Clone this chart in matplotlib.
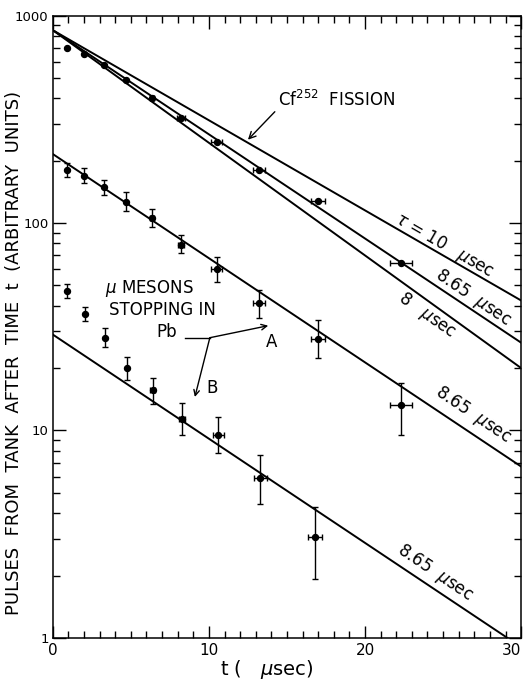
import numpy as np
import matplotlib
matplotlib.use("Agg")
import matplotlib.pyplot as plt
from matplotlib.ticker import FixedLocator, LogLocator, NullFormatter, MultipleLocator

# Data
# -----------------------------------------------------------
# Cf252 fission points
cf_t = [0.9, 2.0, 3.3, 4.7, 6.35, 8.2, 10.5, 13.2, 17.0, 22.3]
cf_n = [700, 655, 580, 490, 400, 322, 246, 181, 128, 64]
cf_terr = [0, 0, 0, 0, 0.15, 0.25, 0.35, 0.4, 0.45, 0.7]

# mu mesons stopping in Pb, curve A
a_t = [0.9, 2.0, 3.3, 4.7, 6.35, 8.2, 10.5, 13.2, 17.0, 22.3]
a_n = [180, 169, 149, 126, 106, 78, 60, 41, 27.5, 13.2]
a_hi = [195, 185, 162, 141, 117, 87.5, 68.6, 47.4, 34, 16.9]
a_lo = [167, 156, 136, 114, 96, 71.6, 51.9, 34.7, 22.3, 9.5]
a_terr = [0, 0, 0, 0, 0.15, 0.2, 0.35, 0.4, 0.45, 0.7]

# curve B
b_t = [0.9, 2.05, 3.33, 4.74, 6.4, 8.27, 10.6, 13.3, 16.8]
b_n = [46.9, 36.3, 27.8, 20.0, 15.6, 11.3, 9.5, 5.9, 3.08]
b_hi = [50.7, 39.3, 31.1, 22.7, 18.0, 13.5, 11.6, 7.6, 4.3]
b_lo = [43.5, 33.6, 25.2, 17.6, 13.4, 9.5, 7.8, 4.4, 1.93]
b_terr = [0, 0, 0, 0, 0.15, 0.2, 0.35, 0.4, 0.45]

# fitted exponentials: start value, lifetime (usec)
cf_n0 = 850
cf_taus = [10, 8.65, 8]
a_n0 = 215
b_n0 = 29
mu_tau = 8.65

x_ticks = [0, 10, 20, 30]
y_ticks = [1, 10, 100, 1000]
y_tick_labels = ['1', '10', '100', '1000']

# Plot
# -----------------------------------------------------------
fig = plt.figure(figsize=(5.28, 6.84), dpi=100)
ax = fig.add_axes([0.100, 0.0673, 0.887, 0.910])

t = np.linspace(0, 30, 300)
for tau in cf_taus:
    ax.plot(t, cf_n0 * np.exp(-t / tau), color='black', lw=1.4)
ax.plot(t, a_n0 * np.exp(-t / mu_tau), color='black', lw=1.4)
ax.plot(t, b_n0 * np.exp(-t / mu_tau), color='black', lw=1.4)

ax.errorbar(cf_t, cf_n, xerr=cf_terr, fmt='o', color='black', ms=4.3,
            capsize=2, elinewidth=1.0, capthick=1.0)
a_err = [np.array(a_n) - np.array(a_lo), np.array(a_hi) - np.array(a_n)]
ax.errorbar(a_t, a_n, yerr=a_err, xerr=a_terr, fmt='o', color='black',
            ms=4.3, capsize=2.5, elinewidth=1.0, capthick=1.0)
b_err = [np.array(b_n) - np.array(b_lo), np.array(b_hi) - np.array(b_n)]
ax.errorbar(b_t, b_n, yerr=b_err, xerr=b_terr, fmt='o', color='black',
            ms=4.3, capsize=2.5, elinewidth=1.0, capthick=1.0)

ax.set_yscale('log')
ax.set_xlim(0, 30)
ax.set_ylim(1, 1000)

# ticks inward on all four sides
ax.xaxis.set_major_locator(FixedLocator(x_ticks))
ax.xaxis.set_minor_locator(MultipleLocator(1))
ax.yaxis.set_major_locator(FixedLocator(y_ticks))
ax.yaxis.set_minor_locator(LogLocator(base=10, subs=np.arange(2, 10)))
ax.yaxis.set_minor_formatter(NullFormatter())
ax.set_xticklabels([str(v) for v in x_ticks], fontsize=11)
ax.set_yticklabels(y_tick_labels, fontsize=9.5)
ax.get_xticklabels()[-1].set_ha('right')
ax.tick_params(which='both', direction='in', top=True, right=True, width=1)
ax.tick_params(which='major', length=9)
ax.tick_params(axis='y', which='major', pad=3)
ax.tick_params(which='minor', length=5)
for s in ax.spines.values():
    s.set_linewidth(1.1)

ax.set_xlabel('t (   $\\mu$sec)', fontsize=14)
ax.xaxis.set_label_coords(0.457, -0.032)
ax.set_ylabel('PULSES  FROM  TANK  AFTER  TIME  t  (ARBITRARY  UNITS)',
              fontsize=13)
ax.yaxis.set_label_coords(-0.063, 0.458)

# labels on the lines
ax.text(25.1, 78, '$\\tau$ = 10   $\\mu$sec', rotation=-30, fontsize=12,
        ha='center', va='center', rotation_mode='anchor')
ax.text(26.9, 43.6, '8.65  $\\mu$sec', rotation=-34, fontsize=12,
        ha='center', va='center', rotation_mode='anchor')
ax.text(24.0, 36.0, '8   $\\mu$sec', rotation=-35, fontsize=12,
        ha='center', va='center', rotation_mode='anchor')
ax.text(26.9, 11.9, '8.65  $\\mu$sec', rotation=-34, fontsize=12,
        ha='center', va='center', rotation_mode='anchor')
ax.text(24.5, 2.06, '8.65  $\\mu$sec', rotation=-34, fontsize=12,
        ha='center', va='center', rotation_mode='anchor')

ax.annotate('Cf$^{252}$  FISSION', xy=(12.5, 252), xytext=(14.4, 390),
            fontsize=12, ha='left', va='center',
            arrowprops=dict(arrowstyle='->', color='black', lw=1.0,
                            shrinkA=0, shrinkB=0, relpos=(0.02, 0.2)))

ax.text(6.2, 48.2, '$\\mu$ MESONS', fontsize=12, ha='center', va='center')
ax.text(7.0, 38.2, 'STOPPING IN', fontsize=12, ha='center', va='center')
ax.text(7.3, 29.9, 'Pb', fontsize=12, ha='center', va='center')
ax.plot([8.46, 10.06], [28.0, 28.0], color='black', lw=1.0)
ax.annotate('', xy=(13.8, 32), xytext=(10.06, 28.0),
            arrowprops=dict(arrowstyle='->', color='black', lw=1.0,
                            shrinkA=0, shrinkB=0))
ax.annotate('', xy=(9.1, 14.5), xytext=(10.06, 28.0),
            arrowprops=dict(arrowstyle='->', color='black', lw=1.0,
                            shrinkA=0, shrinkB=0))
ax.text(14.0, 26.7, 'A', fontsize=12, ha='center', va='center')
ax.text(10.2, 16.0, 'B', fontsize=12, ha='center', va='center')

fig.savefig('out.png', dpi=100)
